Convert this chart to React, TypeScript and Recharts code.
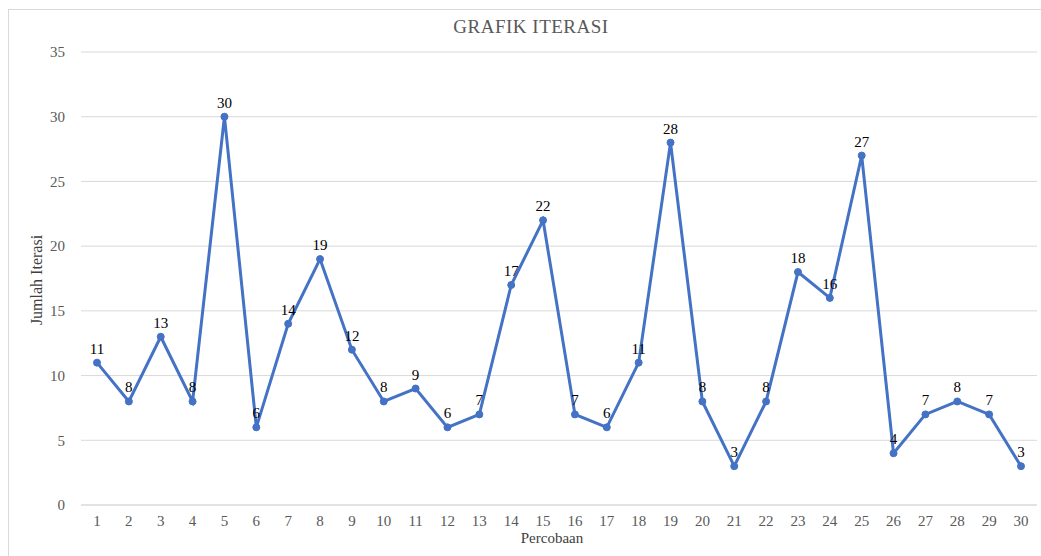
import {
  LineChart,
  Line,
  XAxis,
  YAxis,
  CartesianGrid,
  LabelList,
} from "recharts";

const percobaan = [
  "1", "2", "3", "4", "5", "6", "7", "8", "9", "10",
  "11", "12", "13", "14", "15", "16", "17", "18", "19", "20",
  "21", "22", "23", "24", "25", "26", "27", "28", "29", "30",
];

const jumlahIterasi = [
  11, 8, 13, 8, 30, 6, 14, 19, 12, 8,
  9, 6, 7, 17, 22, 7, 6, 11, 28, 8,
  3, 8, 18, 16, 27, 4, 7, 8, 7, 3,
];

const yTicks = [0, 5, 10, 15, 20, 25, 30, 35];

const FONT = "'Liberation Serif', 'Times New Roman', serif";
const LINE_COLOR = "#4472C4";

const data = percobaan.map((p, i) => ({ percobaan: p, iterasi: jumlahIterasi[i] }));

const App = () => {
  return (
    <div
      style={{
        position: "fixed",
        left: 0,
        top: 0,
        width: 1041,
        height: 556,
        background: "#fff",
        fontFamily: FONT,
        overflow: "hidden",
      }}
    >
      <div
        style={{
          position: "absolute",
          left: 8,
          top: 9,
          width: 1100,
          height: 600,
          borderLeft: "1px solid #d9d9d9",
          borderTop: "1px solid #d9d9d9",
        }}
      />
      <div
        style={{
          position: "absolute",
          top: 16,
          left: 0,
          width: 1062,
          textAlign: "center",
          fontSize: 19,
          color: "#595959",
          letterSpacing: 0.5,
        }}
      >
        GRAFIK ITERASI
      </div>
      <div
        style={{
          position: "absolute",
          left: 37,
          top: 280,
          transform: "translate(-50%, -50%) rotate(-90deg)",
          fontSize: 16,
          color: "#404040",
          whiteSpace: "nowrap",
        }}
      >
        Jumlah Iterasi
      </div>
      <div
        style={{
          position: "absolute",
          top: 530,
          left: 0,
          width: 1104,
          textAlign: "center",
          fontSize: 15,
          color: "#404040",
        }}
      >
        Percobaan
      </div>
      <div style={{ position: "absolute", left: 0, top: 0 }}>
        <LineChart
          width={1041}
          height={556}
          data={data}
          margin={{ top: 52, right: 4, bottom: 21, left: 21 }}
        >
          <CartesianGrid vertical={false} stroke="#d9d9d9" strokeWidth={1} />
          <XAxis
            dataKey="percobaan"
            height={30}
            padding={{ left: 16, right: 16 }}
            axisLine={{ stroke: "#d9d9d9" }}
            tickLine={false}
            tickSize={0}
            tickMargin={10}
            interval={0}
            tick={{ fill: "#595959", fontSize: 15, fontFamily: FONT }}
          />
          <YAxis
            width={60}
            domain={[0, 35]}
            ticks={yTicks}
            axisLine={false}
            tickLine={false}
            tickSize={0}
            tickMargin={16}
            tick={{ fill: "#595959", fontSize: 15, fontFamily: FONT }}
          />
          <Line
            type="linear"
            dataKey="iterasi"
            stroke={LINE_COLOR}
            strokeWidth={3}
            dot={{ r: 3.5, fill: LINE_COLOR, stroke: LINE_COLOR, strokeWidth: 1 }}
            isAnimationActive={false}
          >
            <LabelList
              dataKey="iterasi"
              position="top"
              offset={9}
              fill="#000"
              fontSize={15}
              fontFamily={FONT}
            />
          </Line>
        </LineChart>
      </div>
    </div>
  );
};

export default App;
